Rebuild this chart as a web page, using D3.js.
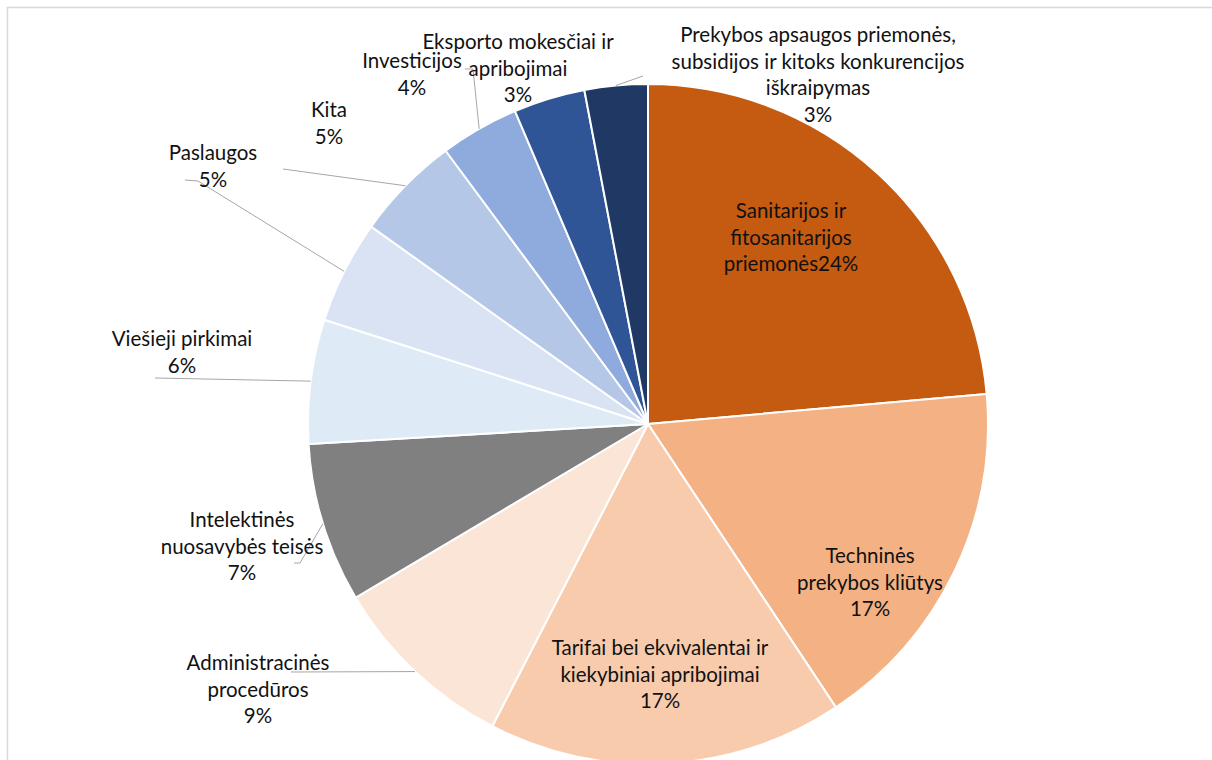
<!DOCTYPE html>
<html>
<head>
<meta charset="utf-8">
<script src="https://cdn.jsdelivr.net/npm/d3@7"></script>
<style>
  html, body { margin: 0; padding: 0; background: #fff; overflow: hidden; }
  svg { display: block; }
  text { font-family: Lato, "Open Sans", sans-serif; font-size: 20.5px; fill: #111; }
</style>
</head>
<body>
<svg id="chart" width="1212" height="760"></svg>
<script>
// ---- data ----
const categories = [
  "Sanitarijos ir fitosanitarijos priemonės",
  "Techninės prekybos kliūtys",
  "Tarifai bei ekvivalentai ir kiekybiniai apribojimai",
  "Administracinės procedūros",
  "Intelektinės nuosavybės teisės",
  "Viešieji pirkimai",
  "Paslaugos",
  "Kita",
  "Investicijos",
  "Eksporto mokesčiai ir apribojimai",
  "Prekybos apsaugos priemonės, subsidijos ir kitoks konkurencijos iškraipymas"
];
const shares = [23.6, 17.1, 16.9, 8.9, 7.6, 5.9, 4.9, 5.0, 3.75, 3.4, 3.0];
const percentLabels = ["24%", "17%", "17%", "9%", "7%", "6%", "5%", "5%", "4%", "3%", "3%"];
const labelLines = [
  ["Sanitarijos ir", "fitosanitarijos", "priemonės24%"],
  ["Techninės", "prekybos kliūtys", "17%"],
  ["Tarifai bei ekvivalentai ir", "kiekybiniai apribojimai", "17%"],
  ["Administracinės", "procedūros", "9%"],
  ["Intelektinės", "nuosavybės teisės", "7%"],
  ["Viešieji pirkimai", "6%"],
  ["Paslaugos", "5%"],
  ["Kita", "5%"],
  ["Investicijos", "4%"],
  ["Eksporto mokesčiai ir", "apribojimai", "3%"],
  ["Prekybos apsaugos priemonės,", "subsidijos ir kitoks konkurencijos", "iškraipymas", "3%"]
];
const colors = ["#C55A11", "#F4B183", "#F8CBAD", "#FBE5D6", "#808080", "#DEEBF7",
                "#DAE3F3", "#B4C7E7", "#8FAADC", "#2F5597", "#203864"];

// ---- layout (positions only) ----
const W = 1212, H = 760;
const cx = 648, cy = 424, R = 340;
const lineH = 26.5;
// label centre (x, y of first line) and leader elbow points (null = no leader)
const labelLayout = [
  {x: 791, y: 211, leader: null},
  {x: 870, y: 556, leader: null},
  {x: 660, y: 648, leader: null},
  {x: 258, y: 663, leader: [[291, 672]]},
  {x: 242, y: 520, leader: [[300, 563], [294, 563]]},
  {x: 182, y: 339, leader: [[155, 378]]},
  {x: 213, y: 153, leader: [[198, 181], [185, 180]]},
  {x: 329, y: 110, leader: [[283, 169]]},
  {x: 412, y: 61,  leader: [[473, 69], [465, 69]]},
  {x: 518, y: 42,  leader: null},
  {x: 818, y: 35,  leader: [[643, 76]]}
];

const svg = d3.select("#chart");

// chart-area border (partly cut off by the window)
svg.append("rect")
  .attr("x", 7.5).attr("y", 7.5)
  .attr("width", W + 20).attr("height", H + 20)
  .attr("fill", "#fff").attr("stroke", "#d9d9d9").attr("stroke-width", 1.5);

const data = categories.map((c, i) => ({name: c, value: shares[i], i}));
const pie = d3.pie().value(d => d.value).sort(null);
const arcs = pie(data);
const arc = d3.arc().innerRadius(0).outerRadius(R);
const color = d3.scaleOrdinal().domain(categories).range(colors);

const g = svg.append("g").attr("transform", `translate(${cx},${cy})`);
g.selectAll("path.slice")
  .data(arcs)
  .join("path")
  .attr("class", "slice")
  .attr("d", arc)
  .attr("fill", d => color(d.data.name))
  .attr("stroke", "#fff")
  .attr("stroke-width", 2)
  .attr("stroke-linejoin", "round");

// leader lines
const line = d3.line();
arcs.forEach((a, i) => {
  const L = labelLayout[i];
  if (!L.leader) return;
  const mid = (a.startAngle + a.endAngle) / 2;
  const start = [cx + R * Math.sin(mid), cy - R * Math.cos(mid)];
  svg.append("path")
    .attr("d", line([start, ...L.leader]))
    .attr("fill", "none")
    .attr("stroke", "#a6a6a6")
    .attr("stroke-width", 1);
});

// labels
arcs.forEach((a, i) => {
  const L = labelLayout[i];
  const t = svg.append("text")
    .attr("text-anchor", "middle");
  labelLines[i].forEach((s, k) => {
    t.append("tspan")
      .attr("x", L.x)
      .attr("y", L.y + k * lineH)
      .attr("dy", "0.35em")
      .text(s);
  });
});
</script>
</body>
</html>
